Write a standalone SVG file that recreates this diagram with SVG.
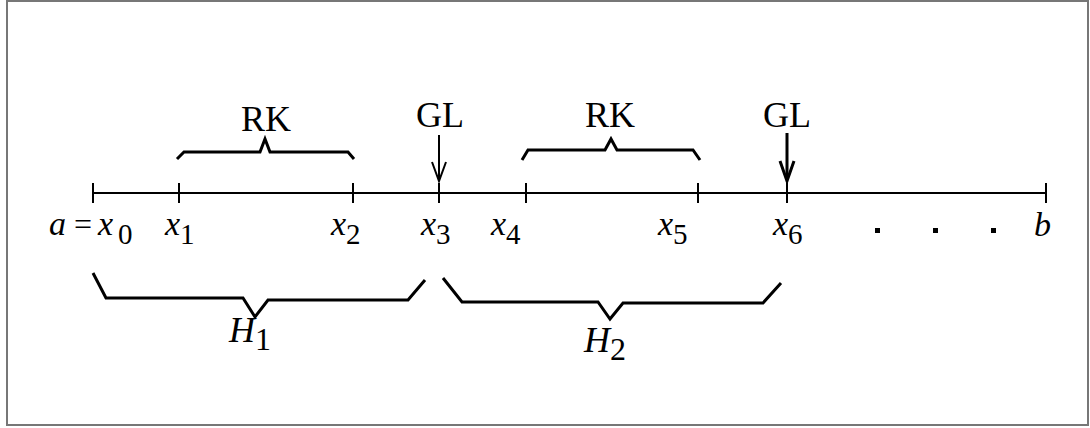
<svg xmlns="http://www.w3.org/2000/svg" width="1090" height="428" viewBox="0 0 1090 428">
<style>
.ln{fill:none;stroke:#000;stroke-width:2;stroke-linecap:butt}
.br{fill:none;stroke:#000;stroke-width:3;stroke-linejoin:miter}
.t{font-family:"Liberation Serif","Times New Roman",serif;font-size:36px;fill:#000}
.eq{font-family:"Liberation Serif","Times New Roman",serif;font-size:32px;fill:#000}
.v{font-family:"Liberation Serif","Times New Roman",serif;font-style:italic;font-size:34px;fill:#000}
.s{font-family:"Liberation Serif","Times New Roman",serif;font-size:29px;fill:#000}
.h{font-family:"Liberation Serif","Times New Roman",serif;font-style:italic;font-size:36px;fill:#000}
.hs{font-family:"Liberation Serif","Times New Roman",serif;font-size:32px;fill:#000}
</style>
<rect x="7" y="1" width="1081" height="424" fill="#fff" stroke="#777" stroke-width="2"/>
<g id="axis">
<line class="ln" x1="93" y1="193" x2="1046" y2="193"/>
<line class="ln" x1="93" y1="183" x2="93" y2="203"/>
<line class="ln" x1="179" y1="183" x2="179" y2="203"/>
<line class="ln" x1="353" y1="183" x2="353" y2="203"/>
<line class="ln" x1="439" y1="183" x2="439" y2="203"/>
<line class="ln" x1="526" y1="183" x2="526" y2="203"/>
<line class="ln" x1="698" y1="183" x2="698" y2="203"/>
<line class="ln" x1="787" y1="183" x2="787" y2="203"/>
<line class="ln" x1="1046" y1="183" x2="1046" y2="203"/>
</g>
<g id="labels">
<text class="v" x="49" y="235">a</text>
<text class="eq" x="74" y="235">=</text>
<text class="v" x="98" y="235">x</text><text class="s" x="118" y="244">0</text>
<text class="v" x="165" y="235">x</text><text class="s" x="180" y="244">1</text>
<text class="v" x="331" y="235">x</text><text class="s" x="346" y="244">2</text>
<text class="v" x="421" y="235">x</text><text class="s" x="436" y="244">3</text>
<text class="v" x="491" y="235">x</text><text class="s" x="506" y="244">4</text>
<text class="v" x="658" y="235">x</text><text class="s" x="673" y="244">5</text>
<text class="v" x="773" y="235">x</text><text class="s" x="788" y="244">6</text>
<rect x="875" y="228" width="5" height="5"/>
<rect x="933" y="228" width="5" height="5"/>
<rect x="991" y="228" width="5" height="5"/>
<text class="v" x="1034" y="236">b</text>
</g>
<g id="rk1">
<polyline class="br" points="177,159 184,152 260,152 265,139 270,152 348,152 354,159"/>
<text class="t" text-anchor="middle" x="266" y="131">RK</text>
</g>
<g id="rk2">
<polyline class="br" points="522,160 528,150 605,150 611,139 617,150 693,150 700,160"/>
<text class="t" text-anchor="middle" x="610" y="127">RK</text>
</g>
<g id="gl1">
<text class="t" text-anchor="middle" x="440" y="127">GL</text>
<line class="ln" x1="439" y1="135" x2="439" y2="181"/>
<polyline class="ln" points="432,162 439,181 446,162"/>
</g>
<g id="gl2">
<text class="t" text-anchor="middle" x="787" y="127">GL</text>
<line x1="787" y1="133" x2="787" y2="178" stroke="#000" stroke-width="3"/>
<polyline points="780,161 787,181 794,161" fill="none" stroke="#000" stroke-width="3"/>
</g>
<g id="h1">
<polyline class="br" points="93,273 106,298 243,298 255,317 268,300 408,300 425,280"/>
<text class="h" x="229" y="342">H</text><text class="hs" x="255" y="350">1</text>
</g>
<g id="h2">
<polyline class="br" points="443,278 462,302 598,302 610,319 623,303 763,303 781,283"/>
<text class="h" x="584" y="352">H</text><text class="hs" x="610" y="360">2</text>
</g>
</svg>
